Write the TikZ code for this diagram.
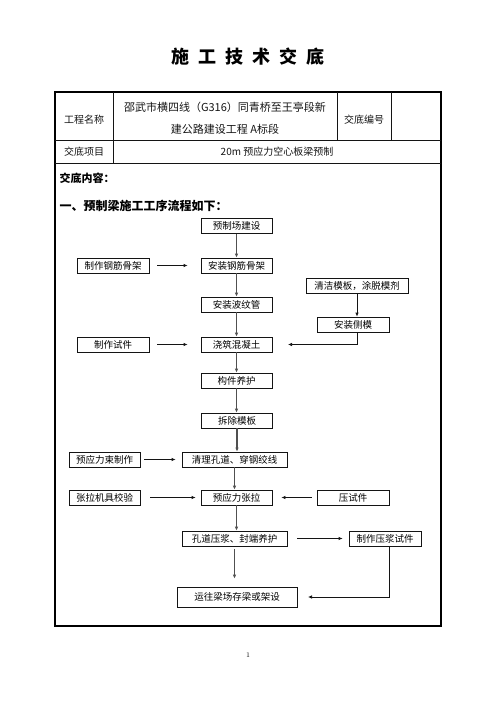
\documentclass[tikz,border=0pt]{standalone}
\usepackage{fontspec}
\newfontfamily\cjk{Noto Sans CJK SC}
\usepackage{tikz}
\usetikzlibrary{arrows.meta, positioning, calc}
\definecolor{mydark}{RGB}{20,20,20}
\definecolor{mygrey}{RGB}{80,80,80}
\tikzset{
  stepbox/.style={rectangle, draw=mydark, line width=0.7pt, inner sep=0pt,
    minimum width=71pt, minimum height=15pt, align=center,
    font=\cjk\fontsize{9.5}{11}\selectfont},
  cell/.style={font=\cjk\fontsize{10}{12}\selectfont, color=mydark},
  mainarrow/.style={-{Latex[length=4pt,width=3.5pt]}, line width=1.3pt, color=mygrey},
  arrow/.style={-{Latex[length=4pt,width=3.5pt]}, line width=0.7pt, color=mydark},
  line/.style={line width=0.6pt, color=mydark}
}
\begin{document}
\begin{tikzpicture}[x=1pt, y=-1pt]
  \useasboundingbox (0,0) rectangle (496,702);

  % heading
  \node[font=\cjk\bfseries\fontsize{18}{20}\selectfont] (title) at (248,57)
    {施\hspace{9pt}工\hspace{9pt}技\hspace{9pt}术\hspace{9pt}交\hspace{9pt}底};

  % table frame
  \draw[line width=1.5pt] (55,92) rectangle (441,626);
  \draw[line] (55,140) -- (441,140);
  \draw[line] (55,163) -- (441,163);
  \draw[line] (113,92) -- (113,163);
  \draw[line] (337,92) -- (337,140);
  \draw[line] (391,92) -- (391,140);

  \node[cell] (namelbl) at (84,120) {工程名称};
  \node[cell, font=\cjk\fontsize{11}{13}\selectfont, align=center] (name) at (225,107) {邵武市横四线（G316）同青桥至王亭段新};
  \node[cell, font=\cjk\fontsize{11}{13}\selectfont] (name2) at (225,129) {建公路建设工程 A标段};
  \node[cell] (codelbl) at (364,120) {交底编号};
  \node[cell] (itemlbl) at (84,152) {交底项目};
  \node[cell] (item) at (277,152) {20m 预应力空心板梁预制};

  \node[font=\cjk\bfseries\fontsize{11}{13}\selectfont, anchor=west] (content) at (56,178) {交底内容：};
  \node[font=\cjk\bfseries\fontsize{12}{14}\selectfont, anchor=west] (flowtitle) at (56,206) {一、预制梁施工工序流程如下：};

  % main column
  \node[stepbox] (yard) at (236.5,226) {预制场建设};
  \node[stepbox] (cage) at (236.5,265.5) {安装钢筋骨架};
  \node[stepbox] (duct) at (236.5,304.5) {安装波纹管};
  \node[stepbox] (pour) at (236.5,344.5) {浇筑混凝土};
  \node[stepbox] (cure) at (236.5,380.5) {构件养护};
  \node[stepbox] (strip) at (237,420.5) {拆除模板};
  \node[stepbox, minimum width=105pt] (clean) at (234.5,459.5) {清理孔道、穿钢绞线};
  \node[stepbox] (stress) at (236.5,497.5) {预应力张拉};
  \node[stepbox, minimum width=105pt] (grout) at (234.5,538.5) {孔道压浆、封端养护};
  \node[stepbox, minimum width=120pt, minimum height=20pt] (ship) at (237,597) {运往梁场存梁或架设};

  % side steps
  \node[stepbox, minimum width=72pt] (makecage) at (113,265.5) {制作钢筋骨架};
  \node[stepbox, minimum width=72pt] (maketest) at (113,344.5) {制作试件};
  \node[stepbox] (tendon) at (104.5,459.5) {预应力束制作};
  \node[stepbox] (calib) at (104.5,497.5) {张拉机具校验};
  \node[stepbox, minimum width=72pt] (press) at (353,497.5) {压试件};
  \node[stepbox, minimum width=102pt] (formclean) at (357,285.5) {清洁模板，涂脱模剂};
  \node[stepbox, minimum width=72pt] (sideform) at (353,324.5) {安装侧模};
  \node[stepbox, minimum width=72pt] (groutest) at (385,538.5) {制作压浆试件};

  \coordinate (pourin) at (288,344.5);
  \coordinate (shipin) at (308,597);

  % main flow
  \draw[mainarrow] (yard.south) -- (yard.south |- cage.north);
  \draw[mainarrow] (cage.south) -- (cage.south |- duct.north);
  \draw[mainarrow] (duct.south) -- (duct.south |- pour.north);
  \draw[mainarrow] (pour.south) -- (pour.south |- cure.north);
  \draw[mainarrow] (cure.south) -- (cure.south |- strip.north);
  \draw[mainarrow] (strip.south) -- (strip.south |- clean.north);
  \draw[mainarrow] (clean.south) -- (clean.south |- stress.north);
  \draw[mainarrow] (stress.south) -- (stress.south |- grout.north);
  \draw[mainarrow, shorten <=3pt, shorten >=8pt] (grout.south) -- (grout.south |- ship.north);

  % side flow
  \draw[arrow, shorten <=8pt, shorten >=13pt] (makecage) -- (cage);
  \draw[arrow, shorten <=8pt, shorten >=13pt] (maketest) -- (pour);
  \draw[arrow, shorten <=4pt, shorten >=6pt] (tendon) -- (clean);
  \draw[arrow, shorten <=10pt, shorten >=5pt] (calib) -- (stress);
  \draw[arrow, shorten <=5pt, shorten >=9pt] (press) -- (stress);
  \draw[arrow, shorten <=10pt, shorten >=6pt] (grout) -- (groutest);
  \draw[arrow] (formclean.south) -- (formclean.south |- sideform.north);
  \draw[arrow] (formclean.south |- sideform.south) |- (pourin);
  \draw[arrow] ([xshift=4pt]groutest.south) |- (shipin);

  % page number
  \node[font=\fontsize{7}{8}\selectfont] (page) at (248,655) {1};
\end{tikzpicture}
\end{document}
